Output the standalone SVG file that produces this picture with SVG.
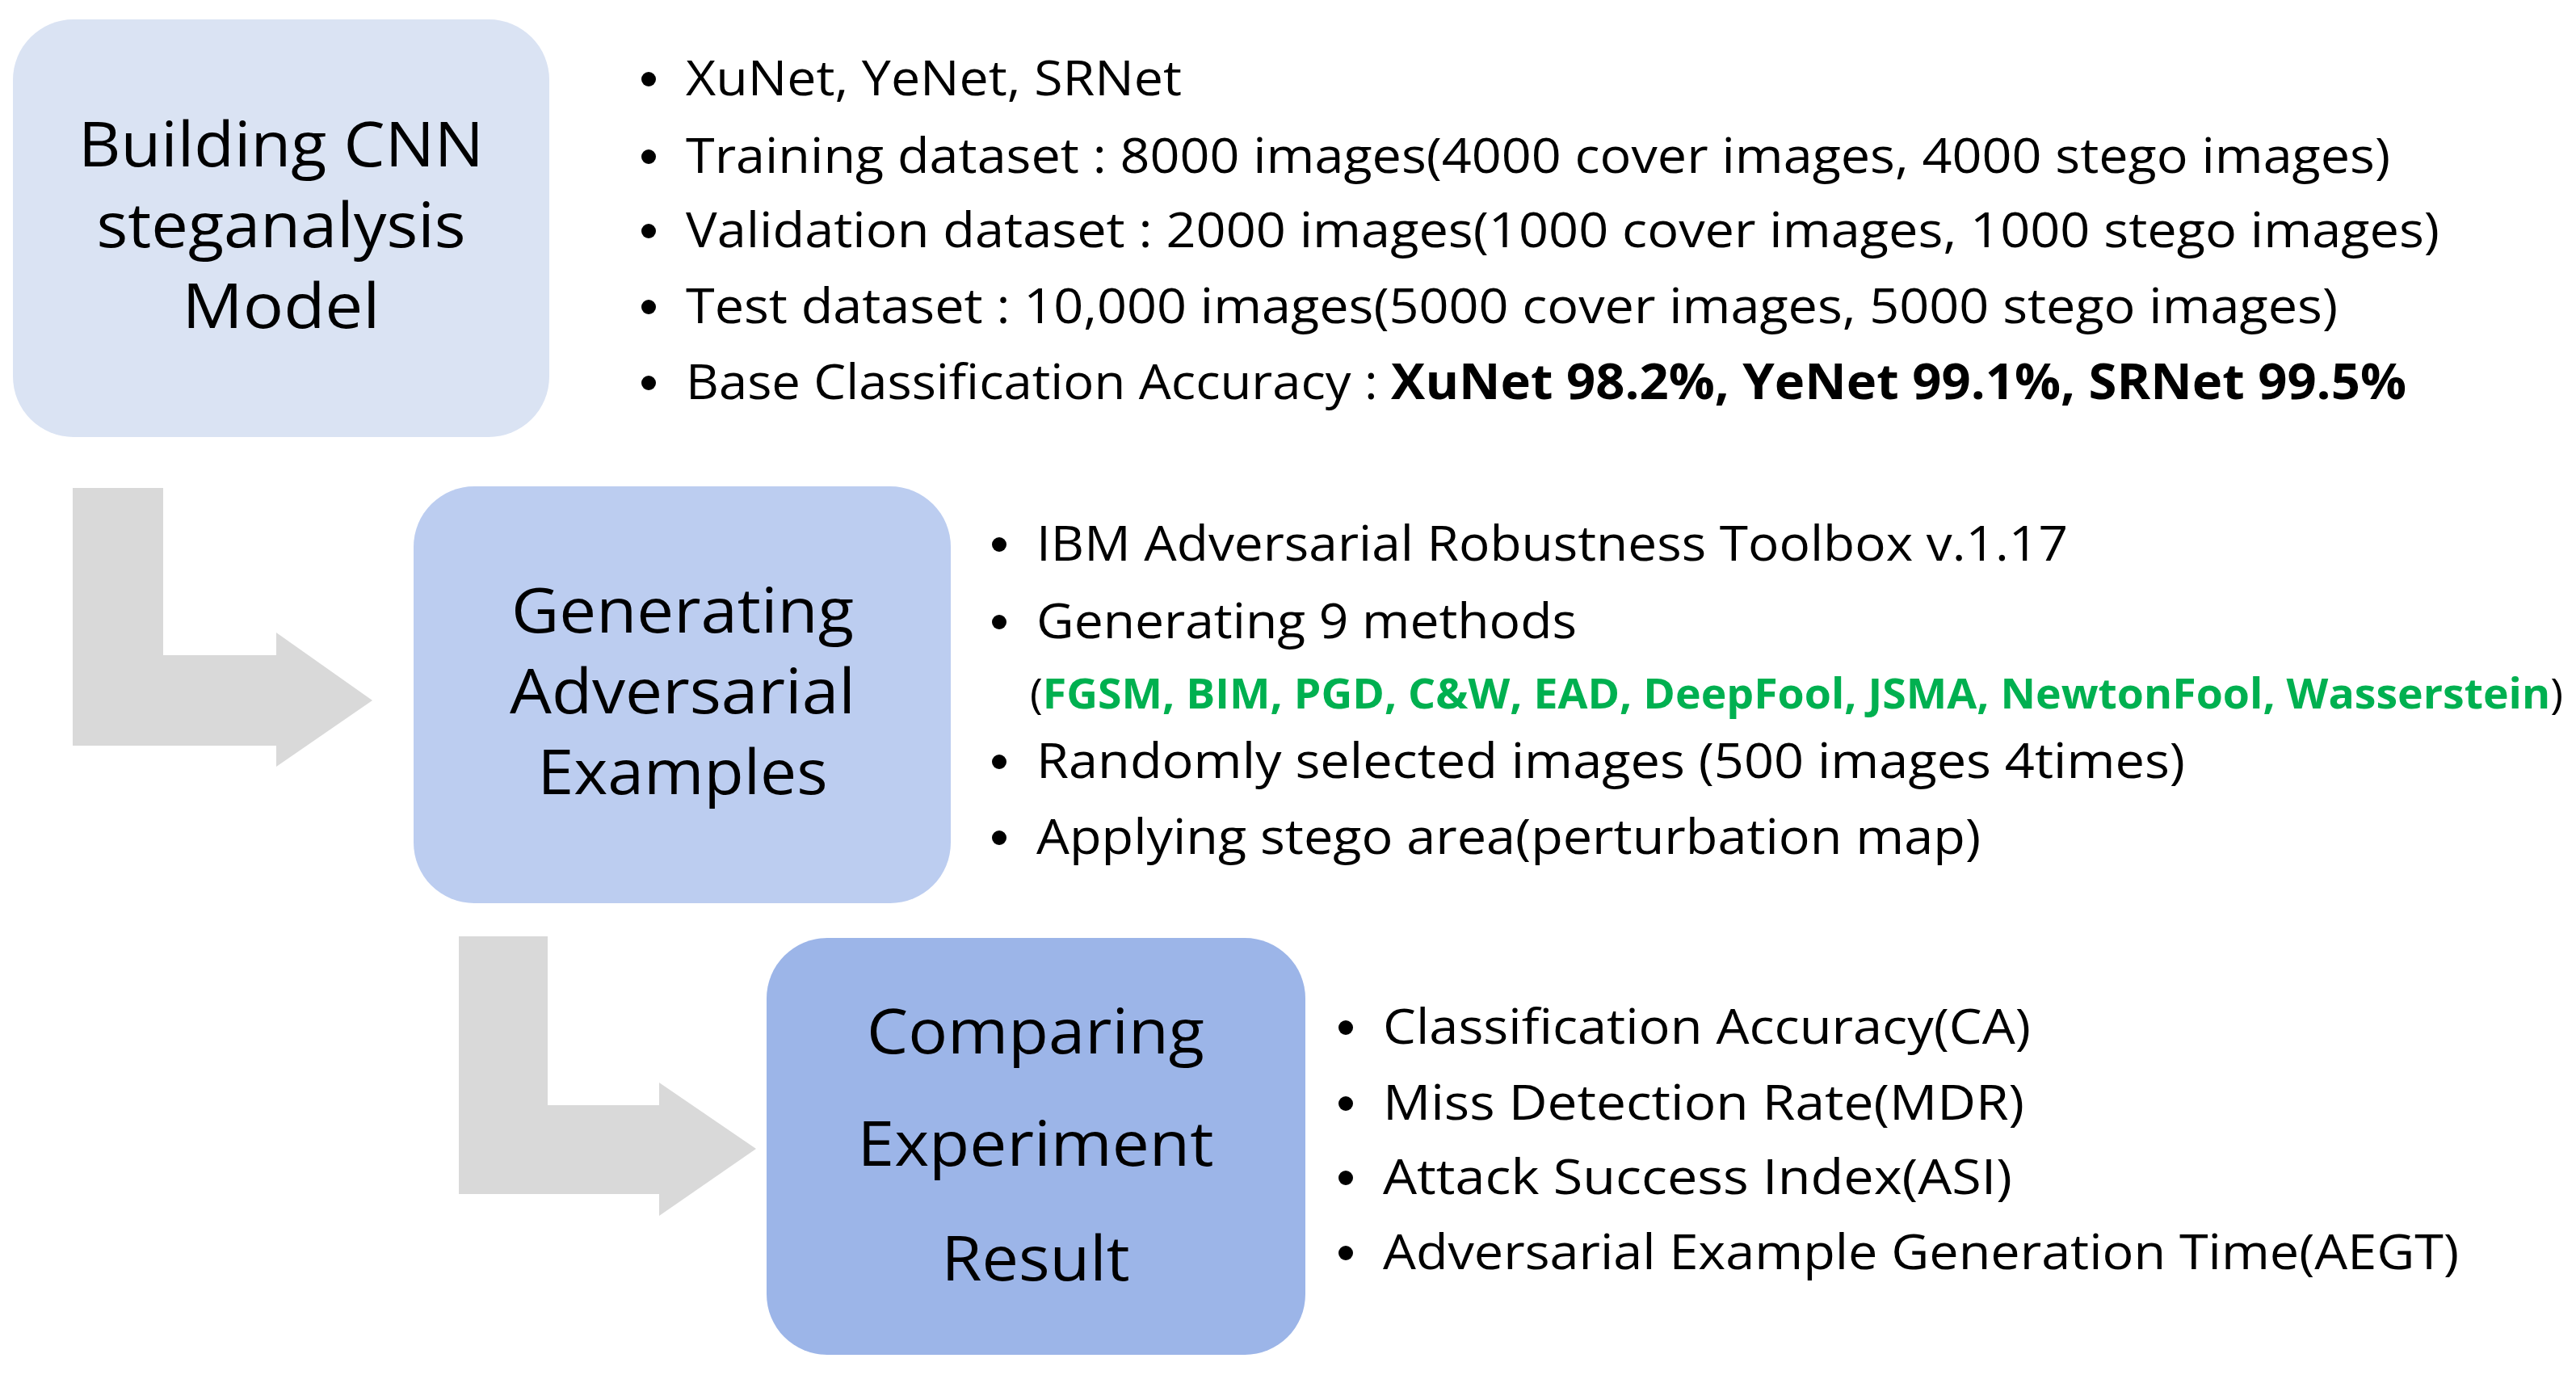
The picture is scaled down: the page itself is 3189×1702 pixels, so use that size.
<svg xmlns="http://www.w3.org/2000/svg" width="3189" height="1702" viewBox="0 0 3189 1702">
<style>
.t{font-family:"Open Sans","DejaVu Sans",sans-serif;font-size:76px;fill:#000;text-anchor:middle}
.b{font-family:"Open Sans","DejaVu Sans",sans-serif;font-size:60px;fill:#000}
.g{fill:#00b050;font-weight:bold}
.arr{fill:#d9d9d9}
</style>
<defs><circle id="dot" r="9" fill="#000"/></defs>
<rect width="3189" height="1702" fill="#fff"/>
<g id="connectors">
<polygon class="arr" points="90,604 202,604 202,811 342,811 342,783 461,867 342,949 342,923 90,923"/>
<polygon class="arr" points="568,1159 678,1159 678,1368 816,1368 816,1340 936,1422 816,1505 816,1478 568,1478"/>
</g>
<g id="node1">
<rect x="16" y="24" width="664" height="517" rx="75" fill="#dae3f3"/>
<text class="t" x="348" y="206" textLength="502" lengthAdjust="spacingAndGlyphs">Building CNN</text>
<text class="t" x="348" y="306" textLength="457" lengthAdjust="spacingAndGlyphs">steganalysis</text>
<text class="t" x="348" y="406" textLength="245" lengthAdjust="spacingAndGlyphs">Model</text>
</g>
<g id="node2">
<rect x="512" y="602" width="665" height="516" rx="75" fill="#bccdf0"/>
<text class="t" x="845" y="783" textLength="424" lengthAdjust="spacingAndGlyphs">Generating</text>
<text class="t" x="845" y="883" textLength="428" lengthAdjust="spacingAndGlyphs">Adversarial</text>
<text class="t" x="845" y="983" textLength="359" lengthAdjust="spacingAndGlyphs">Examples</text>
</g>
<g id="node3">
<rect x="949" y="1161" width="667" height="516" rx="75" fill="#9cb5e8"/>
<text class="t" x="1282" y="1304" textLength="418" lengthAdjust="spacingAndGlyphs">Comparing</text>
<text class="t" x="1282" y="1443" textLength="441" lengthAdjust="spacingAndGlyphs">Experiment</text>
<text class="t" x="1282" y="1585" textLength="233" lengthAdjust="spacingAndGlyphs">Result</text>
</g>
<g id="list1" class="b">
<use href="#dot" x="803" y="98"/><text x="849" y="118" textLength="614" lengthAdjust="spacingAndGlyphs">XuNet, YeNet, SRNet</text>
<use href="#dot" x="803" y="194"/><text x="849" y="214" textLength="2110" lengthAdjust="spacingAndGlyphs">Training dataset : 8000 images(4000 cover images, 4000 stego images)</text>
<use href="#dot" x="803" y="286"/><text x="849" y="306" textLength="2171" lengthAdjust="spacingAndGlyphs">Validation dataset : 2000 images(1000 cover images, 1000 stego images)</text>
<use href="#dot" x="803" y="380"/><text x="849" y="400" textLength="2045" lengthAdjust="spacingAndGlyphs">Test dataset : 10,000 images(5000 cover images, 5000 stego images)</text>
<use href="#dot" x="803" y="474"/><text x="849" y="494" textLength="2130" lengthAdjust="spacingAndGlyphs">Base Classification Accuracy : <tspan font-weight="bold">XuNet 98.2%, YeNet 99.1%, SRNet 99.5%</tspan></text>
</g>
<g id="list2" class="b">
<use href="#dot" x="1237" y="674"/><text x="1283" y="694" textLength="1277" lengthAdjust="spacingAndGlyphs">IBM Adversarial Robustness Toolbox v.1.17</text>
<use href="#dot" x="1237" y="770"/><text x="1283" y="790" textLength="669" lengthAdjust="spacingAndGlyphs">Generating 9 methods</text>
<text x="1275" y="877" font-size="52" textLength="1898" lengthAdjust="spacingAndGlyphs">(<tspan class="g">FGSM, BIM, PGD, C&amp;W, EAD, DeepFool, JSMA, NewtonFool, Wasserstein</tspan>)</text>
<use href="#dot" x="1237" y="943"/><text x="1283" y="963" textLength="1422" lengthAdjust="spacingAndGlyphs">Randomly selected images (500 images 4times)</text>
<use href="#dot" x="1237" y="1037"/><text x="1283" y="1057" textLength="1169" lengthAdjust="spacingAndGlyphs">Applying stego area(perturbation map)</text>
</g>
<g id="list3" class="b">
<use href="#dot" x="1666" y="1272"/><text x="1712" y="1292" textLength="802" lengthAdjust="spacingAndGlyphs">Classification Accuracy(CA)</text>
<use href="#dot" x="1666" y="1366"/><text x="1712" y="1386" textLength="794" lengthAdjust="spacingAndGlyphs">Miss Detection Rate(MDR)</text>
<use href="#dot" x="1666" y="1458"/><text x="1712" y="1478" textLength="779" lengthAdjust="spacingAndGlyphs">Attack Success Index(ASI)</text>
<use href="#dot" x="1666" y="1551"/><text x="1712" y="1571" textLength="1332" lengthAdjust="spacingAndGlyphs">Adversarial Example Generation Time(AEGT)</text>
</g>
</svg>
